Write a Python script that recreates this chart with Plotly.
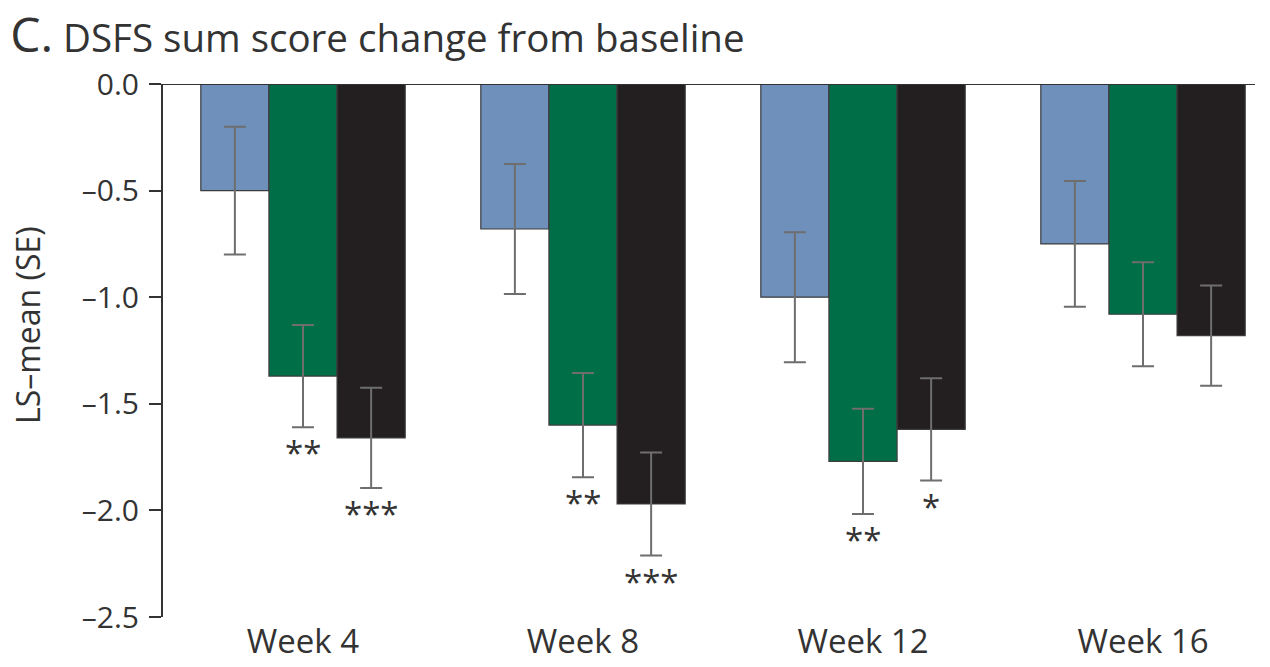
import plotly.graph_objects as go

# Visits on the x axis
weeks = ["Week 4", "Week 8", "Week 12", "Week 16"]

# LS-mean change from baseline and standard error for each treatment arm
arm1_mean = [-0.50, -0.68, -1.00, -0.75]
arm1_se = [0.30, 0.305, 0.305, 0.295]

arm2_mean = [-1.37, -1.60, -1.77, -1.08]
arm2_se = [0.24, 0.245, 0.247, 0.244]

arm3_mean = [-1.66, -1.97, -1.62, -1.18]
arm3_se = [0.235, 0.242, 0.24, 0.235]

# Significance markers versus the first arm
arm2_sig = ["**", "**", "**", ""]
arm3_sig = ["***", "***", "*", ""]

# Y axis ticks
y_ticks = [0.0, -0.5, -1.0, -1.5, -2.0, -2.5]
y_tick_text = ["0.0", "\u20130.5", "\u20131.0", "\u20131.5", "\u20132.0", "\u20132.5"]

FONT = "Open Sans"
TEXT = "#333333"
ERR = "#6e6e6e"

arms = [
    ("Arm 1", arm1_mean, arm1_se, "#6f90bb"),
    ("Arm 2", arm2_mean, arm2_se, "#006e46"),
    ("Arm 3", arm3_mean, arm3_se, "#231f20"),
]

fig = go.Figure()
for name, means, ses, color in arms:
    fig.add_trace(go.Bar(
        name=name,
        x=weeks,
        y=means,
        marker=dict(color=color, line=dict(color="#3c3c3c", width=1.2)),
        error_y=dict(type="data", array=ses, visible=True,
                     color=ERR, thickness=2, width=11),
        offsetgroup=name,
    ))

# Asterisks under the lower end of the error bars
for k, (sig, means, ses) in enumerate([(arm2_sig, arm2_mean, arm2_se),
                                       (arm3_sig, arm3_mean, arm3_se)]):
    for i, s in enumerate(sig):
        if not s:
            continue
        fig.add_annotation(
            x=weeks[i], y=means[i] - ses[i],
            xref="x", yref="y",
            text=s, showarrow=False,
            xanchor="center", yanchor="top",
            xshift=k * 68,  # green is the centre bar, black the right one
            yshift=-1,
            font=dict(family=FONT, size=33, color=TEXT),
        )

# Zero reference line across the plot
fig.add_shape(type="line", xref="paper", yref="y", x0=0, x1=1, y0=0, y1=0,
              line=dict(color="#333333", width=2))

# Axis title on the left
fig.add_annotation(
    text="LS\u2013mean (SE)", textangle=-90,
    xref="paper", yref="paper", x=-0.124, y=0.547,
    xanchor="center", yanchor="middle", showarrow=False,
    font=dict(family=FONT, size=32, color=TEXT),
)

fig.update_layout(
    width=1270, height=667,
    margin=dict(l=163, r=15, t=84, b=50, autoexpand=False),
    paper_bgcolor="white", plot_bgcolor="white",
    barmode="group", bargap=0.27, bargroupgap=0,
    showlegend=False,
    title=dict(
        text="<span style='font-size:48px'>C.</span> DSFS sum score change from baseline",
        x=0.008, xanchor="left", xref="container",
        y=1 - 39 / 667, yanchor="middle", yref="container",
        font=dict(family=FONT, size=38.5, color=TEXT),
    ),
    font=dict(family=FONT, color=TEXT),
)

fig.update_xaxes(
    range=[-0.5, 3.4], showline=False, ticks="", showgrid=False,
    tickfont=dict(family=FONT, size=33, color=TEXT),
    ticklabelstandoff=2, automargin=False,
    zeroline=False,
)
fig.update_yaxes(
    range=[-2.5, 0], tickvals=y_ticks, ticktext=y_tick_text,
    showline=True, linecolor="#333333", linewidth=2,
    ticks="outside", ticklen=12, tickwidth=2, tickcolor="#333333",
    showgrid=False, zeroline=False,
    ticklabelstandoff=4, automargin=False,
    tickfont=dict(family=FONT, size=30, color=TEXT),
)

fig.write_html("out.html")
